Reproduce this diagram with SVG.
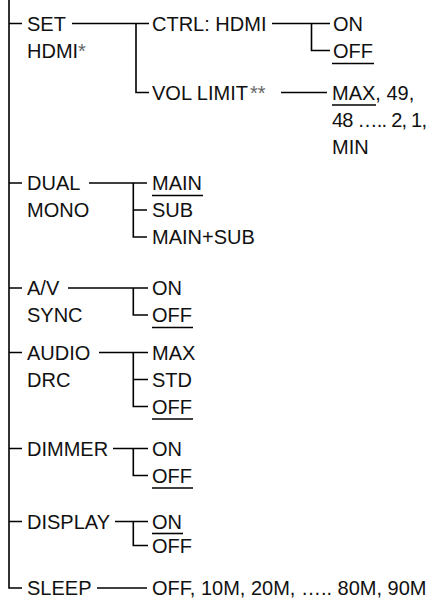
<svg xmlns="http://www.w3.org/2000/svg" width="430" height="599" viewBox="0 0 430 599">
<style>
text{font-family:"Liberation Sans",Arial,Helvetica,sans-serif;font-size:20px;fill:#111}
.a{fill:#666}
.c{stroke:#000;stroke-width:1.6;fill:none}
.u{stroke:#000;stroke-width:1.6}
</style>
<rect width="430" height="599" fill="#fff"/>
<g id="connectors" class="c">
<path d="M9,0 V588 H22"/>
<path d="M9,23.5 H22 M9,183 H22 M9,288 H22 M9,352.5 H22 M9,448.5 H22 M9,521.5 H22"/>
<path d="M72,23.5 H149 M136,23.5 V92.5 H149"/>
<path d="M272,23.5 H330 M311.5,23.5 V50.5 H330"/>
<path d="M281,92.5 H327"/>
<path d="M89,183 H147 M133.3,183 V237 H147 M133.3,210 H147"/>
<path d="M68,288 H148 M133.3,288 V315 H148"/>
<path d="M99,352.5 H148 M133.3,352.5 V406.5 H148 M133.3,379.5 H148"/>
<path d="M113,448.5 H148 M133.3,448.5 V475.5 H148"/>
<path d="M115,521.5 H148 M133.3,521.5 V545.5 H148"/>
<path d="M97,588 H147"/>
</g>
<g id="set-hdmi">
<text x="27" y="30.5">SET</text>
<text x="27" y="57.5">HDMI<tspan class="a">*</tspan></text>
</g>
<g id="ctrl-hdmi">
<text x="152" y="30.5">CTRL: HDMI</text>
<text x="333" y="30.5">ON</text>
<text x="333" y="57.5">OFF</text>
<line class="u" x1="332" y1="63.5" x2="374" y2="63.5"/>
</g>
<g id="vol-limit">
<text x="152" y="99.5">VOL LIMIT<tspan class="a" dx="2">**</tspan></text>
<text x="332" y="99.5">MAX, 49,</text>
<line class="u" x1="332" y1="105" x2="376" y2="105"/>
<text x="332" y="126.5" textLength="95" lengthAdjust="spacing">48 ….. 2, 1,</text>
<text x="332" y="153.5">MIN</text>
</g>
<g id="dual-mono">
<text x="27" y="190">DUAL</text>
<text x="27" y="217">MONO</text>
<text x="152" y="190">MAIN</text>
<line class="u" x1="152" y1="195.5" x2="203" y2="195.5"/>
<text x="152" y="217">SUB</text>
<text x="152" y="244">MAIN+SUB</text>
</g>
<g id="av-sync">
<text x="27" y="295">A/V</text>
<text x="27" y="322">SYNC</text>
<text x="152" y="295">ON</text>
<text x="152" y="322">OFF</text>
<line class="u" x1="152" y1="327.5" x2="193" y2="327.5"/>
</g>
<g id="audio-drc">
<text x="27" y="359.5">AUDIO</text>
<text x="27" y="386.5">DRC</text>
<text x="152" y="359.5">MAX</text>
<text x="152" y="386.5">STD</text>
<text x="152" y="413.5">OFF</text>
<line class="u" x1="152" y1="419" x2="193" y2="419"/>
</g>
<g id="dimmer">
<text x="27" y="455.5">DIMMER</text>
<text x="152" y="455.5">ON</text>
<text x="152" y="482.5">OFF</text>
<line class="u" x1="152" y1="488" x2="193" y2="488"/>
</g>
<g id="display">
<text x="27" y="528.5">DISPLAY</text>
<text x="152" y="528.5">ON</text>
<line class="u" x1="152" y1="533.5" x2="183" y2="533.5"/>
<text x="152" y="552.5">OFF</text>
</g>
<g id="sleep">
<text x="27" y="595">SLEEP</text>
<text x="152" y="595">OFF, 10M, 20M, ….. 80M, 90M</text>
</g>
</svg>
